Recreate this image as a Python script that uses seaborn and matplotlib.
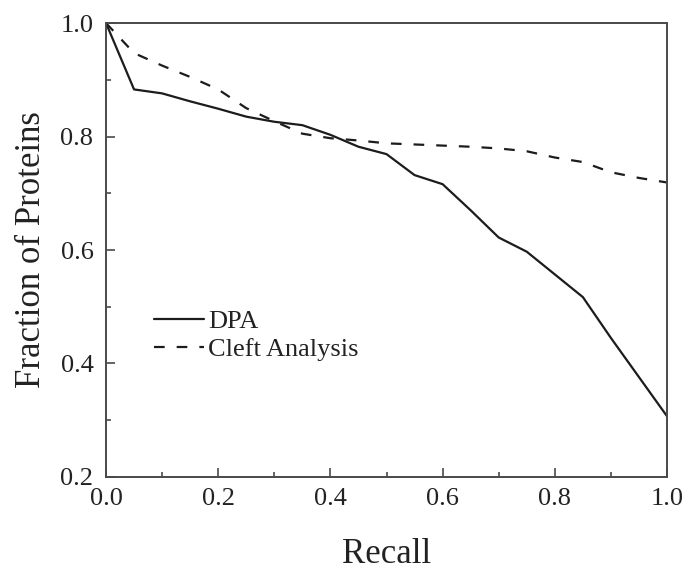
import matplotlib
matplotlib.use("Agg")
import matplotlib.pyplot as plt
from matplotlib.ticker import MultipleLocator, FormatStrFormatter
import pandas as pd
import seaborn as sns

# Recall levels and fraction of proteins reaching each level
recall = [0.00, 0.05, 0.10, 0.15, 0.20, 0.25, 0.30, 0.35, 0.40, 0.45, 0.50,
          0.55, 0.60, 0.65, 0.70, 0.75, 0.80, 0.85, 0.90, 0.95, 1.00]
dpa = [1.000, 0.883, 0.876, 0.862, 0.849, 0.835, 0.826, 0.820, 0.803, 0.782, 0.769,
       0.732, 0.716, 0.670, 0.622, 0.597, 0.557, 0.517, 0.445, 0.376, 0.307]
cleft = [1.000, 0.947, 0.925, 0.905, 0.883, 0.850, 0.827, 0.805, 0.797, 0.793, 0.788,
         0.786, 0.784, 0.782, 0.779, 0.774, 0.763, 0.755, 0.737, 0.727, 0.719]
methods = ["DPA", "Cleft Analysis"]

df = pd.concat([
    pd.DataFrame({"Recall": recall, "Fraction": dpa, "Method": methods[0]}),
    pd.DataFrame({"Recall": recall, "Fraction": cleft, "Method": methods[1]}),
])

sns.set_theme(style="ticks")
plt.rcParams["font.family"] = ["Liberation Serif", "DejaVu Serif"]

fig = plt.figure(figsize=(6.9, 5.7), dpi=100)
ax = fig.add_axes([0.1536, 0.1632, 0.8131, 0.7964])

line_color = "#1c1c1c"
sns.lineplot(
    data=df, x="Recall", y="Fraction", hue="Method", style="Method",
    hue_order=methods, style_order=methods,
    palette={methods[0]: line_color, methods[1]: line_color},
    dashes={methods[0]: "", methods[1]: (4.8, 5.4)},
    linewidth=1.6, ax=ax, legend=True,
)

ax.set_xlim(0, 1.0)
ax.set_ylim(0.2, 1.0)
ax.xaxis.set_major_locator(MultipleLocator(0.2))
ax.xaxis.set_minor_locator(MultipleLocator(0.1))
ax.yaxis.set_major_locator(MultipleLocator(0.2))
ax.yaxis.set_minor_locator(MultipleLocator(0.1))
ax.xaxis.set_major_formatter(FormatStrFormatter("%.1f"))
ax.yaxis.set_major_formatter(FormatStrFormatter("%.1f"))

frame_color = "#4a4a4a"
for side in ["left", "right", "top", "bottom"]:
    ax.spines[side].set_visible(True)
    ax.spines[side].set_color(frame_color)
    ax.spines[side].set_linewidth(1.4)

ax.tick_params(which="both", direction="in", color=frame_color, width=1.2,
               top=False, right=False, labelsize=19, labelcolor="#222222")
ax.tick_params(which="major", length=6.5)
ax.tick_params(which="minor", length=3.5)
ax.tick_params(axis="x", which="major", pad=8)
ax.tick_params(axis="y", which="major", pad=9)

ax.set_xlabel("Recall", fontsize=25, color="#222222", labelpad=20)
ax.set_ylabel("Fraction of Proteins", fontsize=25, color="#222222", labelpad=9)

leg = ax.legend(
    loc="upper left", bbox_to_anchor=(0.085, 0.368), frameon=False,
    fontsize=19, handlelength=1.9, handletextpad=0.15, labelspacing=0.15,
    borderpad=0, borderaxespad=0,
)
for t in leg.get_texts():
    t.set_color("#222222")

fig.savefig("out.png", dpi=100)
